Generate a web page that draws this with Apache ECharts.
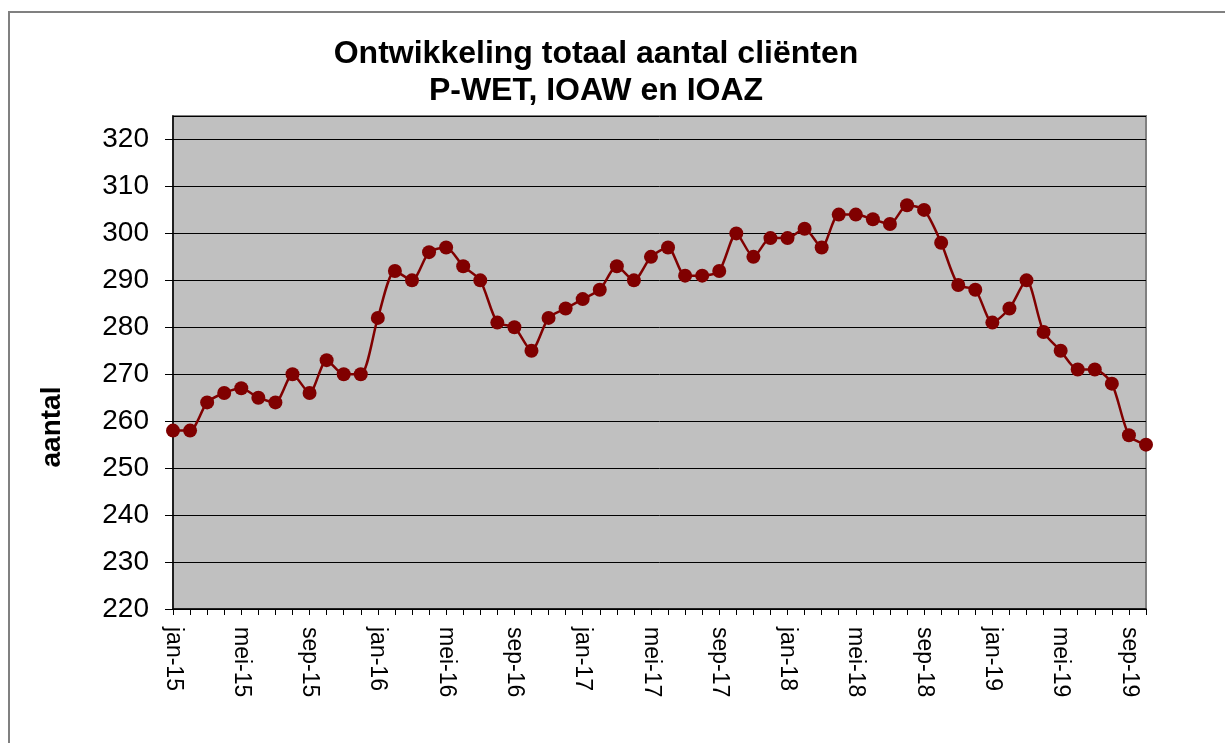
<!DOCTYPE html>
<html>
<head>
<meta charset="utf-8">
<script src="https://cdn.jsdelivr.net/npm/echarts@6/dist/echarts.min.js"></script>
<style>
html,body{margin:0;padding:0;background:#fff;}
#c{width:1225px;height:743px;}
</style>
</head>
<body>
<div id="c"></div>
<script>
const categories = [
 'jan-15','feb-15','mrt-15','apr-15','mei-15','jun-15','jul-15','aug-15','sep-15','okt-15','nov-15','dec-15',
 'jan-16','feb-16','mrt-16','apr-16','mei-16','jun-16','jul-16','aug-16','sep-16','okt-16','nov-16','dec-16',
 'jan-17','feb-17','mrt-17','apr-17','mei-17','jun-17','jul-17','aug-17','sep-17','okt-17','nov-17','dec-17',
 'jan-18','feb-18','mrt-18','apr-18','mei-18','jun-18','jul-18','aug-18','sep-18','okt-18','nov-18','dec-18',
 'jan-19','feb-19','mrt-19','apr-19','mei-19','jun-19','jul-19','aug-19','sep-19','okt-19'
];
const clienten = [
 258,258,264,266,267,265,264,270,266,273,270,270,
 282,292,290,296,297,293,290,281,280,275,282,284,
 286,288,293,290,295,297,291,291,292,300,295,299,
 299,301,297,304,304,303,302,306,305,298,289,288,
 281,284,290,279,275,271,271,268,257,255
];
const titleLines = ['Ontwikkeling totaal aantal cliënten', 'P-WET, IOAW en IOAZ'];
const yAxisName = 'aantal';

const chart = echarts.init(document.getElementById('c'));
chart.setOption({
  animation: false,
  backgroundColor: '#ffffff',
  title: {
    text: titleLines.join('\n'),
    left: 591, top: 31, textAlign: 'center',
    textStyle: {fontFamily: 'Liberation Sans', fontWeight: 'bold', fontSize: 32, color: '#000', lineHeight: 37}
  },
  graphic: [
    {type: 'rect', shape: {x: 9, y: 12, width: 1400, height: 900}, style: {fill: 'none', stroke: '#808080', lineWidth: 2}, silent: true},
    {type: 'text', x: 52, y: 427, rotation: Math.PI/2, style: {text: yAxisName, font: 'bold 28px "Liberation Sans"', fill: '#000', textAlign: 'center', textVerticalAlign: 'middle'}}
  ],
  grid: {left: 173, right: 79, top: 116, bottom: 134, show: true, backgroundColor: '#C0C0C0', borderColor: '#808080', borderWidth: 2},
  xAxis: {
    type: 'category', data: categories, boundaryGap: false,
    axisLine: {lineStyle: {color: '#000', width: 1.5}},
    axisTick: {show: true, interval: 0, length: 6, lineStyle: {color: '#000'}},
    axisLabel: {interval: 3, rotate: -90, margin: 18, fontFamily: 'Liberation Sans', fontSize: 23, color: '#000'},
    splitLine: {show: false}
  },
  yAxis: {
    type: 'value', min: 220, max: 325, interval: 10,
    axisLine: {show: true, lineStyle: {color: '#000', width: 1.5}},
    axisTick: {show: true, length: 8, lineStyle: {color: '#000'}},
    axisLabel: {showMaxLabel: false, margin: 24, fontFamily: 'Liberation Sans', fontSize: 28, color: '#000'},
    splitLine: {show: true, lineStyle: {color: '#000', width: 1}}
  },
  series: [{
    type: 'line', data: clienten, smooth: 0.25,
    symbol: 'circle', symbolSize: 14, showAllSymbol: true,
    lineStyle: {color: '#800000', width: 2.5},
    itemStyle: {color: '#800000'}
  }]
});
</script>
</body>
</html>
